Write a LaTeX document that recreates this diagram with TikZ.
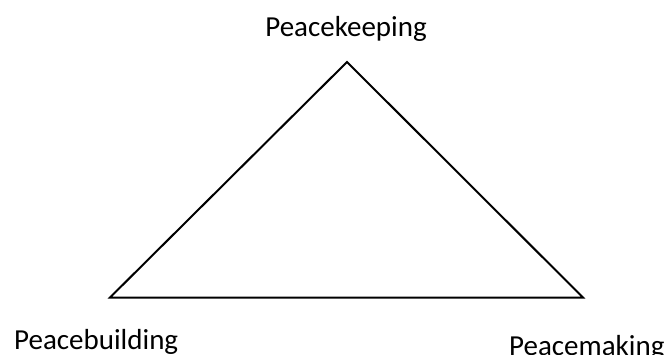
\documentclass[tikz,border=0pt]{standalone}
\usepackage{fontspec}
\setmainfont{Carlito}
\begin{document}
\begin{tikzpicture}[x=1pt,y=-1pt,
  lbl/.style={inner sep=0pt,font=\fontsize{29}{34}\selectfont},
  tri/.style={draw=black,line width=2pt,line join=miter}]
\useasboundingbox (0,0) rectangle (667,354);
\coordinate (top) at (347,62);
\coordinate (bl) at (110,297.5);
\coordinate (br) at (583,297.5);
\draw[tri] (top) -- (br) -- (bl) -- cycle;
\node[lbl,anchor=base] (keep) at (346,36) {Peacekeeping};
\node[lbl,anchor=base west] (build) at (14,349) {Peacebuilding};
\node[lbl,anchor=base west] (make) at (509,355) {Peacemaking};
\end{tikzpicture}
\end{document}
